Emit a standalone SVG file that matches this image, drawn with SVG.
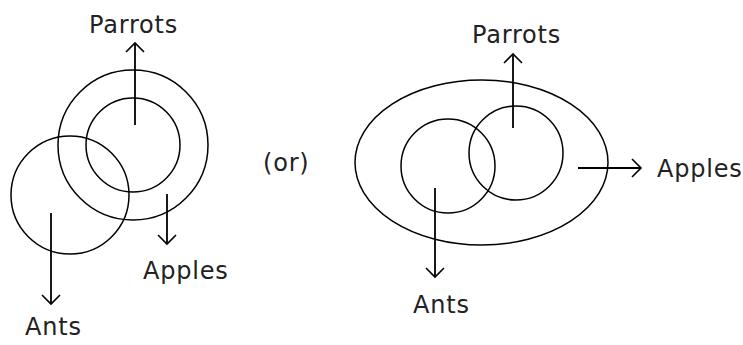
<svg xmlns="http://www.w3.org/2000/svg" width="743" height="345" viewBox="0 0 743 345">
<style>
.s{fill:none;stroke:#000;stroke-width:1.5}
.a{fill:none;stroke:#000;stroke-width:1.8}
.t{font-family:"DejaVu Sans",Verdana,sans-serif;font-size:24px;fill:#222;letter-spacing:0.8px}
</style>
<defs>
<marker id="arr" markerWidth="12" markerHeight="20" refX="10" refY="10" orient="auto" markerUnits="userSpaceOnUse">
<path d="M1,1 L10,10 L1,19" fill="none" stroke="#000" stroke-width="1.6"/>
</marker>
</defs>
<rect width="743" height="345" fill="#fff"/>
<g id="left-parrots-outer"><circle class="s" cx="133" cy="145" r="75"/></g>
<g id="left-parrots-inner"><circle class="s" cx="133" cy="145" r="47"/></g>
<g id="left-ants"><circle class="s" cx="70" cy="195" r="59"/></g>
<g id="right-outer"><ellipse class="s" cx="481.5" cy="162.5" rx="126.5" ry="82.5"/></g>
<g id="right-ants"><circle class="s" cx="448" cy="166" r="47"/></g>
<g id="right-parrots"><circle class="s" cx="516" cy="153" r="47"/></g>
<g id="connectors">
<line class="a" x1="135" y1="125" x2="135" y2="43" marker-end="url(#arr)"/>
<line class="a" x1="167" y1="194" x2="167" y2="244" marker-end="url(#arr)"/>
<line class="a" x1="51" y1="213" x2="51" y2="304" marker-end="url(#arr)"/>
<line class="a" x1="513" y1="128" x2="513" y2="54" marker-end="url(#arr)"/>
<line class="a" x1="578" y1="168" x2="641" y2="168" marker-end="url(#arr)"/>
<line class="a" x1="435" y1="188" x2="435" y2="277" marker-end="url(#arr)"/>
</g>
<g id="labels">
<text class="t" x="89" y="33">Parrots</text>
<text class="t" x="143" y="279">Apples</text>
<text class="t" x="25" y="335">Ants</text>
<text class="t" x="263" y="171">(or)</text>
<text class="t" x="472" y="43">Parrots</text>
<text class="t" x="657" y="177">Apples</text>
<text class="t" x="413" y="313">Ants</text>
</g>
</svg>
